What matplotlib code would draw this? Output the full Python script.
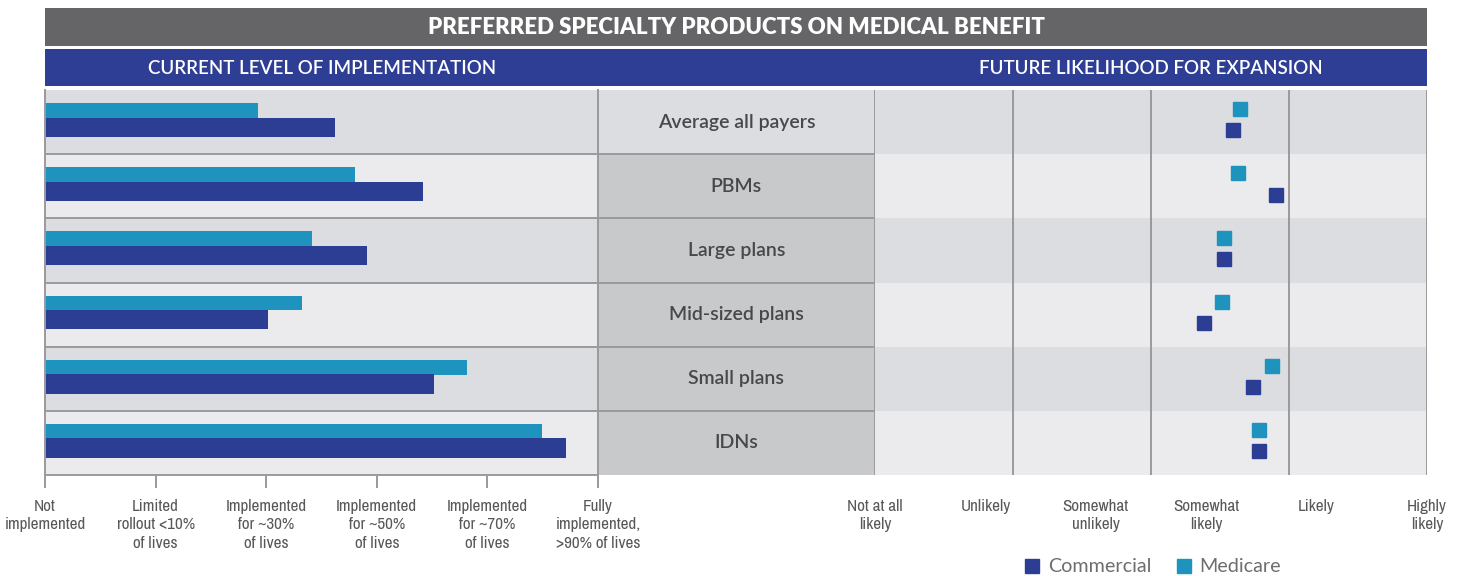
import matplotlib
matplotlib.use('Agg')
import matplotlib.pyplot as plt
from matplotlib.patches import Rectangle
from matplotlib.lines import Line2D

# ---- data ----
categories = ["Average all payers", "PBMs", "Large plans", "Mid-sized plans",
              "Small plans", "IDNs"]
impl_commercial = [2.62, 3.42, 2.91, 2.02, 3.52, 4.71]
impl_medicare = [1.93, 2.80, 2.41, 2.32, 3.82, 4.49]
likely_commercial = [3.245, 3.635, 3.165, 2.98, 3.425, 3.48]
likely_medicare = [3.31, 3.29, 3.165, 3.145, 3.60, 3.48]

impl_labels = ["Not\nimplemented", "Limited\nrollout <10%\nof lives",
               "Implemented\nfor ~30%\nof lives", "Implemented\nfor ~50%\nof lives",
               "Implemented\nfor ~70%\nof lives", "Fully\nimplemented,\n>90% of lives"]
likely_labels = ["Not at all\nlikely", "Unlikely", "Somewhat\nunlikely",
                 "Somewhat\nlikely", "Likely", "Highly\nlikely"]

title = "PREFERRED SPECIALTY PRODUCTS ON MEDICAL BENEFIT"
left_header = "CURRENT LEVEL OF IMPLEMENTATION"
right_header = "FUTURE LIKELIHOOD FOR EXPANSION"

# ---- style ----
GRAY_BAR = '#656567'
NAVY = '#2e3e95'
C_COM = '#2c3e94'
C_MED = '#1e93bd'
ROW_DARK = '#dcdde0'
ROW_LIGHT = '#ebebed'
MID_CELL = '#c8c9cb'
LINE = '#9a9a9c'
TXT = '#48484a'
TICK_TXT = '#58585a'
FONT = ['Lato', 'DejaVu Sans']
NARROW = ['Archivo Narrow', 'DejaVu Sans']

W, H = 1461, 576
fig = plt.figure(figsize=(W / 100, H / 100), dpi=100)


def px_axes(x0, y0, x1, y1, **kw):
    return fig.add_axes([x0 / W, 1 - y1 / H, (x1 - x0) / W, (y1 - y0) / H], **kw)


# background / header strip
bg = px_axes(0, 0, W, H)
bg.set_xlim(0, W)
bg.set_ylim(H, 0)
bg.axis('off')
bg.add_patch(Rectangle((45, 8), 1382, 37.5, color=GRAY_BAR, lw=0))
bg.add_patch(Rectangle((45, 49), 1382, 37, color=NAVY, lw=0))
bg.text(736, 28, title, color='white', fontsize=16, fontweight='heavy',
        family=FONT, ha='center', va='center')
bg.text(322, 69, left_header, color='white', fontsize=13.5, fontweight='semibold',
        family=FONT, ha='center', va='center')
bg.text(1151, 69, right_header, color='white', fontsize=13.5, fontweight='semibold',
        family=FONT, ha='center', va='center')

n = len(categories)
rows = range(n)
row_cols = [ROW_DARK if i % 2 == 0 else ROW_LIGHT for i in rows]

# ---- left: current implementation ----
axl = px_axes(45, 90, 598, 475)
for i in rows:
    axl.axhspan(i, i + 1, color=row_cols[i], lw=0, zorder=0)
axl.barh([i + 0.32 for i in rows], impl_medicare, height=0.23, color=C_MED,
         lw=0, zorder=2)
axl.barh([i + 0.58 for i in rows], impl_commercial, height=0.30, color=C_COM,
         lw=0, zorder=2)
for i in range(1, n):
    axl.axhline(i, color=LINE, lw=1.4, zorder=3)
axl.set_xlim(0, 5)
axl.set_ylim(n, 0)
axl.set_yticks([])
axl.set_xticks(range(6))
axl.set_xticklabels(impl_labels, family=NARROW, fontsize=12.3, color=TICK_TXT,
                    linespacing=1.26)
axl.tick_params(axis='x', length=9, width=1.4, color=LINE, pad=8.5)
axl.spines['top'].set_visible(False)
for s in ['left', 'right', 'bottom']:
    axl.spines[s].set_color(LINE)
    axl.spines[s].set_linewidth(1.4)

# ---- middle: category labels ----
axm = px_axes(598, 90, 875, 475)
axm.set_xlim(0, 1)
axm.set_ylim(n, 0)
axm.axis('off')
for i in rows:
    axm.add_patch(Rectangle((0, i), 1, 1, color=ROW_DARK if i == 0 else MID_CELL,
                            lw=0, zorder=0))
    axm.text(0.5, i + 0.5, categories[i], ha='center', va='center', fontsize=14,
             fontweight='semibold', family=FONT, color=TXT)
for i in range(1, n):
    axm.axhline(i, color=LINE, lw=1.4, zorder=3)
axm.axvline(0, color=LINE, lw=1.4, zorder=3)
axm.axvline(1, color=LINE, lw=1.4, zorder=3)

# ---- right: future likelihood ----
axr = px_axes(875, 90, 1427, 475)
for i in rows:
    axr.axhspan(i, i + 1, color=row_cols[i], lw=0, zorder=0)
for x in [1.25, 2.5, 3.75, 5]:
    axr.axvline(x, color=LINE, lw=1.4, zorder=1)
axr.plot(likely_medicare, [i + 0.30 for i in rows], 's', ms=9.4, color=C_MED,
         zorder=3, clip_on=False)
axr.plot(likely_commercial, [i + 0.63 for i in rows], 's', ms=9.4, color=C_COM,
         zorder=3, clip_on=False)
axr.set_xlim(0, 5)
axr.set_ylim(n, 0)
axr.set_yticks([])
axr.set_xticks(range(6))
axr.set_xticklabels(likely_labels, family=NARROW, fontsize=12.3, color=TICK_TXT,
                    linespacing=1.26)
axr.tick_params(axis='x', length=0, pad=17)
for s in axr.spines.values():
    s.set_visible(False)

# legend
handles = [Line2D([], [], marker='s', ls='', ms=9.4, color=C_COM, label='Commercial'),
           Line2D([], [], marker='s', ls='', ms=9.4, color=C_MED, label='Medicare')]
fig.legend(handles=handles, loc='center', ncol=2, frameon=False,
           bbox_to_anchor=(1152 / W, 1 - 567 / H),
           prop={'family': FONT, 'size': 14.2, 'weight': 'normal'},
           labelcolor='#6d6e70', handletextpad=0.35, columnspacing=1.2,
           handlelength=0.9)

fig.savefig('out.png', dpi=100)
